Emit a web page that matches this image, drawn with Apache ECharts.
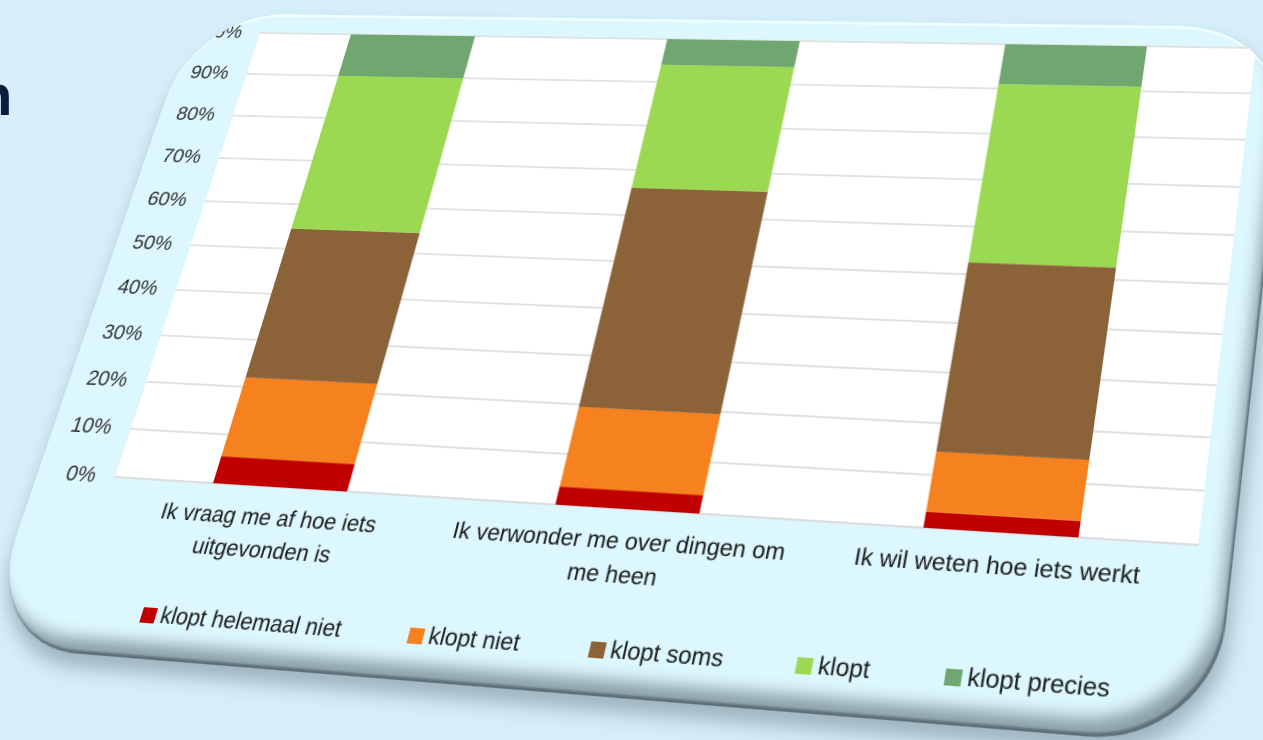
<!DOCTYPE html>
<html><head><meta charset="utf-8">
<script src="https://cdn.jsdelivr.net/npm/echarts@6/dist/echarts.min.js"></script>
<style>
html,body{margin:0;padding:0;width:1263px;height:740px;overflow:hidden;background:#d6eef9;font-family:"Liberation Sans",Arial,sans-serif;}
#title{position:absolute;left:-23px;top:66px;font:bold 58px/58px "Liberation Sans",Arial,sans-serif;color:#0c1d3b;}
#stage{position:absolute;left:0;top:0;width:1110px;height:656px;transform-origin:0 0;}
#shadow{position:absolute;left:0;top:0;width:1110px;height:656px;border-radius:100px;background:#8e9ea8;box-shadow:4px 12px 16px rgba(90,110,125,0.45);}
#card{position:absolute;left:0;top:0;width:1110px;height:656px;border-radius:100px;overflow:hidden;background:#ddf7fe;
  box-shadow:inset 0 3px 0 #effeff, inset -12px -20px 14px -6px rgba(70,85,95,0.55), inset -2px -3px 2px rgba(60,70,80,0.6);}
#chart{position:absolute;left:0;top:0;width:1110px;height:656px;}
</style></head>
<body>
<div id="title">n</div>
<div id="stage"><div id="shadow"></div><div id="card"><div id="chart"></div></div></div>
<script>
const categories = ['Ik vraag me af hoe iets uitgevonden is', 'Ik verwonder me over dingen om me heen', 'Ik wil weten hoe iets werkt'];
const seriesNames = ['klopt helemaal niet', 'klopt niet', 'klopt soms', 'klopt', 'klopt precies'];
const kloptHelemaalNiet = [5.5, 3.5, 3];
const kloptNiet = [16.5, 16, 11.5];
const kloptSoms = [32.5, 46.5, 38];
const klopt = [35.5, 28, 38.5];
const kloptPrecies = [10, 6, 9];
const seriesValues = [kloptHelemaalNiet, kloptNiet, kloptSoms, klopt, kloptPrecies];
const colors = ['#c00000', '#f5821f', '#8c6239', '#9bd953', '#70a670'];

// perspective of the photographed card: map flat plot rectangle to its quad on screen
function homography(src, dst) {
  const A = [], b = [];
  for (let i = 0; i < 4; i++) {
    const [X, Y] = src[i], [x, y] = dst[i];
    A.push([X, Y, 1, 0, 0, 0, -X * x, -Y * x]); b.push(x);
    A.push([0, 0, 0, X, Y, 1, -X * y, -Y * y]); b.push(y);
  }
  const n = 8;
  for (let c = 0; c < n; c++) {
    let p = c;
    for (let r = c + 1; r < n; r++) if (Math.abs(A[r][c]) > Math.abs(A[p][c])) p = r;
    [A[c], A[p]] = [A[p], A[c]]; [b[c], b[p]] = [b[p], b[c]];
    for (let r = 0; r < n; r++) {
      if (r === c) continue;
      const f = A[r][c] / A[c][c];
      for (let k = c; k < n; k++) A[r][k] -= f * A[c][k];
      b[r] -= f * b[c];
    }
  }
  return b.map((v, i) => v / A[i][i]);
}
const h = homography(
  [[80, 22], [1080, 22], [1080, 492], [80, 492]],
  [[260, 33], [1256, 48], [1198, 545], [115, 477]]
);
document.getElementById('stage').style.transform =
  'matrix3d(' + [h[0], h[3], 0, h[6], h[1], h[4], 0, h[7], 0, 0, 1, 0, h[2], h[5], 0, 1].join(',') + ')';

const FONT = '"Liberation Sans", Arial, sans-serif';
const chart = echarts.init(document.getElementById('chart'), null, { devicePixelRatio: 2, renderer: 'canvas' });
chart.setOption({
  animation: false,
  grid: { left: 80, top: 22, width: 1000, height: 470, show: true, backgroundColor: '#ffffff', borderWidth: 0, outerBoundsMode: 'none', containLabel: false },
  legend: {
    left: 145, top: 600, itemWidth: 14, itemHeight: 14, itemGap: 64, icon: 'rect',
    data: seriesNames,
    textStyle: { fontSize: 21, color: '#1a1a1a', fontFamily: FONT, lineHeight: 24 }
  },
  xAxis: {
    type: 'category', data: categories,
    axisLine: { show: true, lineStyle: { color: '#d9d9d9', width: 1.5 } },
    axisTick: { show: false },
    axisLabel: { interval: 0, fontSize: 21, color: '#1a1a1a', fontFamily: FONT, lineHeight: 30, margin: 15, width: 320, overflow: 'break' }
  },
  yAxis: {
    type: 'value', min: 0, max: 100, interval: 10,
    axisLine: { show: false }, axisTick: { show: false },
    axisLabel: { formatter: '{value}%', fontSize: 21, color: '#333333', fontFamily: FONT, margin: 20 },
    splitLine: { lineStyle: { color: '#d9d9d9', width: 1.5 } }
  },
  series: seriesNames.map((name, i) => ({
    name, type: 'bar', stack: 'total', barWidth: '40%',
    data: seriesValues[i], itemStyle: { color: colors[i] }
  }))
});
</script>
</body></html>
